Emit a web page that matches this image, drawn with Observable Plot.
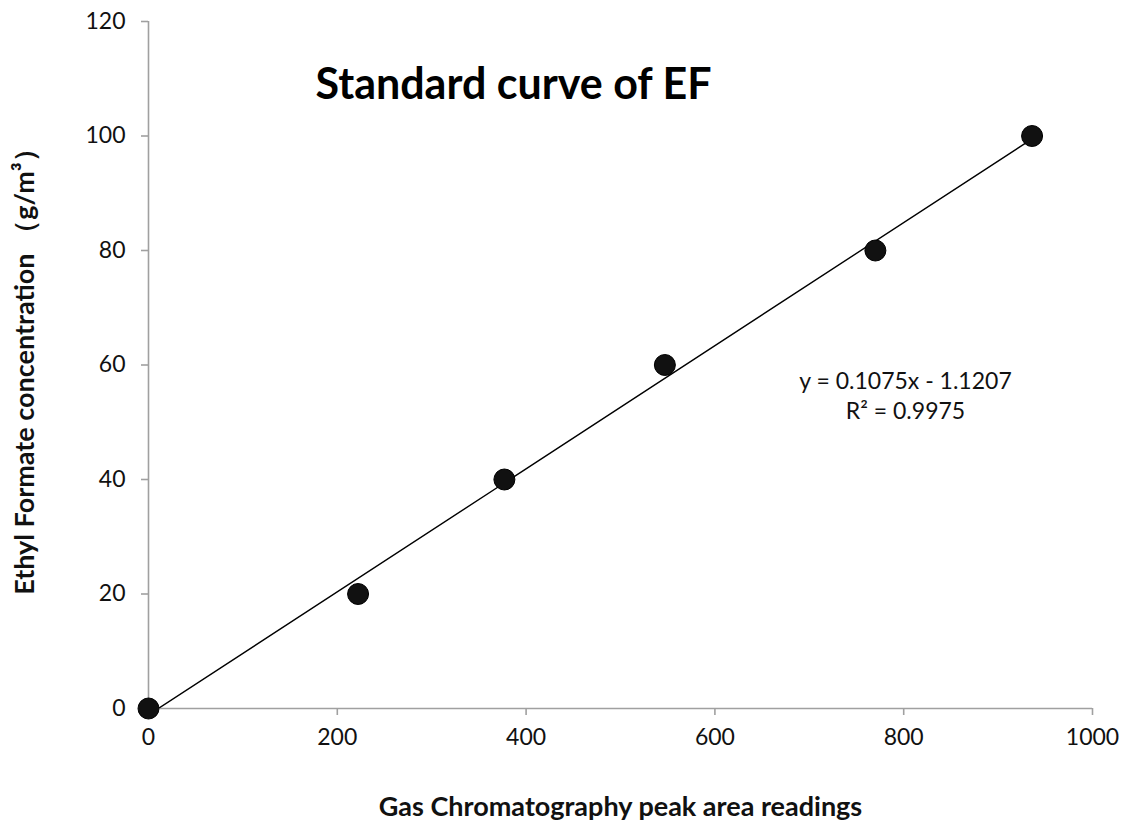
<!DOCTYPE html>
<html><head><meta charset="utf-8">
<script src="https://cdn.jsdelivr.net/npm/d3@7"></script>
<script src="https://cdn.jsdelivr.net/npm/@observablehq/plot@0.6"></script>
<style>body{margin:0;background:#fff;} svg{font-family:Lato,"Open Sans",sans-serif;}</style>
</head><body><div id="chart"></div>
<script>
const peakArea = [0, 222, 377, 547, 770, 936];
const concentration = [0, 20, 40, 60, 80, 100];
const slope = 0.1075, intercept = -1.1207, r2 = 0.9975;
const xTicks = [0, 200, 400, 600, 800, 1000];
const yTicks = [0, 20, 40, 60, 80, 100, 120];
const title = "Standard curve of EF";
const xLabel = "Gas Chromatography peak area readings";
const yLabel = "Ethyl Formate concentration （g/m³）";

const points = peakArea.map((x, i) => ({x, y: concentration[i]}));
const xExt = d3.extent(peakArea);
const trend = xExt.map(x => ({x, y: slope * x + intercept}));

const chart = Plot.plot({
  width: 1124, height: 822,
  marginLeft: 148, marginRight: 32, marginTop: 21, marginBottom: 114,
  style: {fontSize: "23px", fontFamily: "Lato, 'Open Sans', sans-serif", color: "#111"},
  x: {domain: [0, 1000], label: null},
  y: {domain: [0, 120], label: null},
  marks: [
    Plot.ruleX([0], {stroke: "#a0a0a0", strokeWidth: 1.6}),
    Plot.ruleY([0], {stroke: "#a0a0a0", strokeWidth: 1.6}),
    Plot.axisX({ticks: xTicks, tickFormat: d => String(d), tickSize: 7, stroke: "#a0a0a0", strokeWidth: 1.6, tickPadding: 13, fill: "#111", fontSize: 23, label: null}),
    Plot.axisY({ticks: yTicks, tickFormat: d => String(d), tickSize: 7, stroke: "#a0a0a0", strokeWidth: 1.6, tickPadding: 16, fill: "#111", fontSize: 23, label: null}),
    Plot.line(trend, {x: "x", y: "y", stroke: "#000", strokeWidth: 1.4, clip: true}),
    Plot.dot(points, {x: "x", y: "y", r: 10.5, fill: "#111", stroke: "#000", strokeWidth: 1}),
    Plot.text([title], {frameAnchor: "top-left", dx: 167, dy: 64, textAnchor: "start", lineAnchor: "middle", fontSize: 43, fontWeight: "bold", fill: "#000"}),
    Plot.text([`y = ${slope}x - ${Math.abs(intercept)}\nR² = ${r2}`], {frameAnchor: "top-left", dx: 757, dy: 373, textAnchor: "middle", lineAnchor: "middle", lineHeight: 1.3, fontSize: 23, fill: "#111"}),
    Plot.text([xLabel], {frameAnchor: "bottom", dy: 99, textAnchor: "middle", lineAnchor: "middle", fontSize: 27, fontWeight: "bold", fill: "#111"}),
    Plot.text([yLabel], {frameAnchor: "left", dx: -123, rotate: -90, textAnchor: "middle", lineAnchor: "middle", fontSize: 27, fontWeight: "bold", fill: "#111"})
  ]
});
document.getElementById("chart").appendChild(chart);
</script></body></html>
